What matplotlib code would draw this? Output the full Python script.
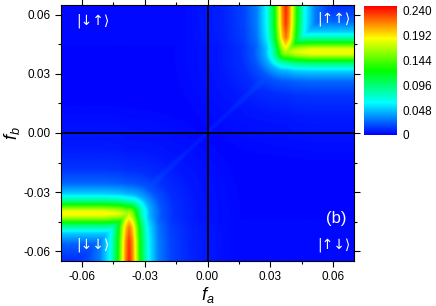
import numpy as np
import matplotlib
matplotlib.use("Agg")
import matplotlib.pyplot as plt
from matplotlib.colors import LinearSegmentedColormap

plt.rcParams['font.family'] = ['Liberation Sans', 'DejaVu Sans']
plt.rcParams['axes.unicode_minus'] = False
plt.rcParams['mathtext.fontset'] = 'custom'
plt.rcParams['mathtext.it'] = 'Liberation Sans:italic'
plt.rcParams['mathtext.rm'] = 'Liberation Sans'

# ridge (upper-right quadrant; lower-left is mirrored)
corner_fa = 0.0375          # position of the vertical arm
corner_fb = 0.041           # position of the horizontal arm
vert_fb = [0.041, 0.045, 0.048, 0.055, 0.065]
vert_peak = [0.17, 0.20, 0.22, 0.235, 0.24]
horz_fa = [0.0375, 0.042, 0.05, 0.07]
horz_peak = [0.16, 0.18, 0.19, 0.19]
arm_dist = [0.0, 0.0017, 0.0035, 0.0055, 0.009, 0.014, 0.02, 0.03, 0.05]
arm_frac = [1.0, 0.9, 0.72, 0.5, 0.27, 0.13, 0.07, 0.035, 0.01]
# faint ridge along fa = fb
diag_s = [0.0, 0.01, 0.02, 0.03, 0.037]
diag_peak = [0.006, 0.008, 0.012, 0.022, 0.045]
diag_width = [0.0015, 0.002, 0.004, 0.007, 0.009]

cbar_ticks = [0, 0.048, 0.096, 0.144, 0.192, 0.240]
cbar_labels = ['0', '0.048', '0.096', '0.144', '0.192', '0.240']
xticks = [-0.06, -0.03, 0.00, 0.03, 0.06]
yticks = [-0.06, -0.03, 0.00, 0.03, 0.06]


def quadrant(fa, fb):
    # vertical arm
    dv = np.where(fb >= corner_fb, np.abs(fa - corner_fa),
                  np.hypot(fa - corner_fa, fb - corner_fb))
    pv = np.interp(fb, vert_fb, vert_peak)
    v = pv * np.interp(dv, arm_dist, arm_frac)
    # horizontal arm
    dh = np.where(fa >= corner_fa, np.abs(fb - corner_fb),
                  np.hypot(fa - corner_fa, fb - corner_fb))
    ph = np.interp(fa, horz_fa, horz_peak)
    h = ph * np.interp(dh / 1.1, arm_dist, arm_frac)
    # diagonal
    s = np.clip((fa + fb) / 2, 0, None)
    w = np.interp(s, diag_s, diag_width)
    pk = np.interp(s, diag_s, diag_peak)
    pk = np.where(s > diag_s[-1], 0, pk)
    dg = pk * np.interp(np.abs(fa - fb) / w * 0.0055, arm_dist, arm_frac)
    return np.maximum(np.maximum(v, h), dg)


fa = np.linspace(-0.07, 0.07, 561)
fb = np.linspace(-0.065, 0.065, 521)
FA, FB = np.meshgrid(fa, fb)
Z = np.maximum(quadrant(FA, FB), quadrant(-FA, -FB))

cmap = LinearSegmentedColormap.from_list(
    'rainbow_origin', ['#0000ff', '#00ffff', '#00ff00', '#ffff00', '#ff0000'])

fig = plt.figure(figsize=(4.36, 3.06), dpi=100)
ax = fig.add_axes([0.140, 0.147, 0.672, 0.837])
im = ax.imshow(Z, extent=[fa[0], fa[-1], fb[0], fb[-1]], origin='lower',
               aspect='auto', cmap=cmap, vmin=0, vmax=0.248,
               interpolation='bilinear')
ax.axhline(0, color='black', lw=1.3)
ax.axvline(0, color='black', lw=1.3)
ax.set_xlim(-0.07, 0.07)
ax.set_ylim(-0.065, 0.065)
ax.set_xticks(xticks)
ax.set_yticks(yticks)
ax.set_xticklabels(['%.2f' % t for t in xticks])
ax.set_yticklabels(['%.2f' % t for t in yticks])
ax.set_xticks(np.arange(-0.06, 0.061, 0.015), minor=True)
ax.set_yticks(np.arange(-0.06, 0.061, 0.015), minor=True)
ax.tick_params(which='both', direction='out', top=True, right=True,
               labeltop=False, labelright=False, labelsize=8.5, width=0.8)
ax.tick_params(which='major', length=4)
ax.tick_params(which='minor', length=2.5)
for sp in ax.spines.values():
    sp.set_linewidth(0.8)

ax.set_xlabel('$f_a$', fontsize=13, labelpad=1)
ax.set_ylabel('$f_b$', fontsize=13, labelpad=1)

kw = dict(color='white', fontsize=10, family=['DejaVu Sans'])
ax.text(-0.0625, 0.057, '|\u2193\u2191\u27e9', ha='left', va='center', **kw)
ax.text(0.0685, 0.058, '|\u2191\u2191\u27e9', ha='right', va='center', **kw)
ax.text(-0.0625, -0.0565, '|\u2193\u2193\u27e9', ha='left', va='center', **kw)
ax.text(0.0685, -0.0565, '|\u2191\u2193\u27e9', ha='right', va='center', **kw)
ax.text(0.0665, -0.0435, '(b)', ha='right', va='center', color='white', fontsize=12)

cax = fig.add_axes([0.835, 0.559, 0.076, 0.421])
cb = fig.colorbar(im, cax=cax, ticks=cbar_ticks)
cb.set_ticklabels(cbar_labels)
cb.outline.set_visible(False)
cax.tick_params(length=0, labelsize=8.5, pad=4)

fig.savefig('out.png', dpi=100)
